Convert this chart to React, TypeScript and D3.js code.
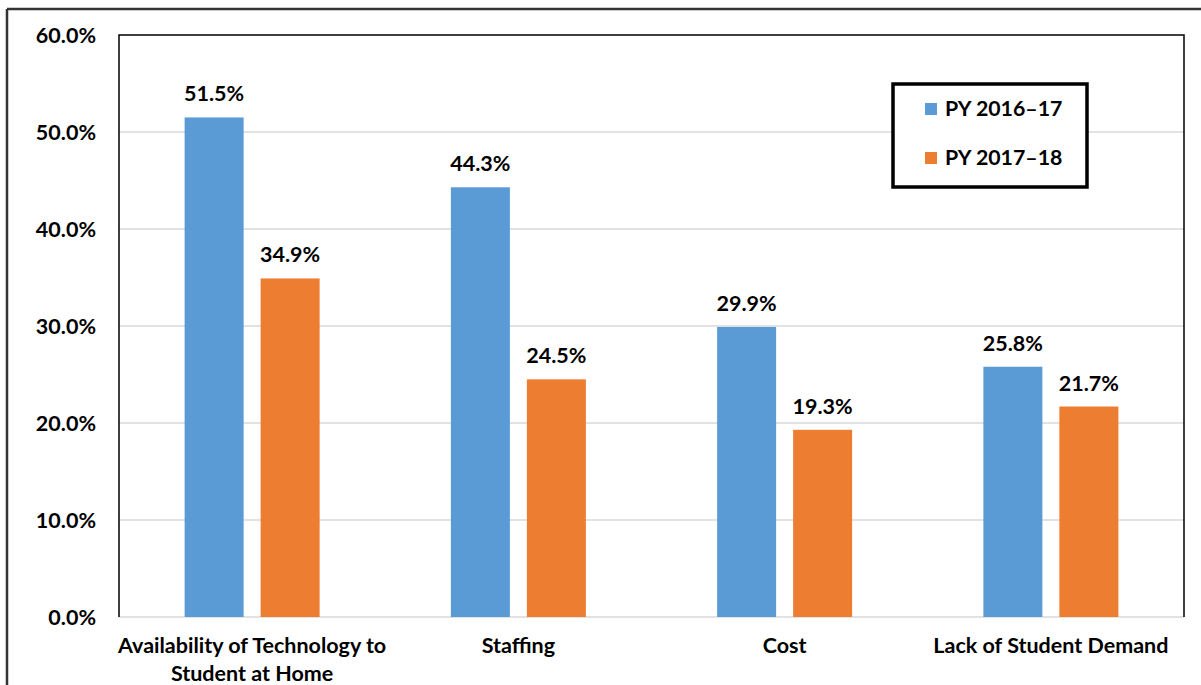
import React from "react";
import * as d3 from "d3";

const categories = [["Availability of Technology to", "Student at Home"], ["Staffing"], ["Cost"], ["Lack of Student Demand"]];
const series1Name = "PY 2016–17";
const series2Name = "PY 2017–18";
const series1 = [51.5, 44.3, 29.9, 25.8];
const series2 = [34.9, 24.5, 19.3, 21.7];
const yTicks = [0, 10, 20, 30, 40, 50, 60];

const W = 1201, H = 685;
const m = { left: 119, top: 35, right: 1184, bottom: 617 };
const FONT = "Lato, 'Open Sans', sans-serif";
const BLUE = "#5B9BD5";
const ORANGE = "#ED7D31";
const FS = 21.5;

export default function App() {
  const x = d3.scaleBand<number>().domain(d3.range(categories.length)).range([m.left, m.right]);
  const y = d3.scaleLinear().domain([0, 60]).range([m.bottom, m.top]);
  const barW = 59, gap = 17;
  return (
    <svg width={W} height={H} style={{ position: "absolute", left: 0, top: 0 }} fontFamily={FONT}>
      <rect x={0} y={0} width={W} height={H} fill="#fff" />
      <line x1={7} y1={9} x2={W} y2={9} stroke="#333" strokeWidth={2.5} />
      <line x1={7} y1={9} x2={7} y2={H} stroke="#333" strokeWidth={2.5} />
      {yTicks.map(t => (
        <g key={t}>
          {t > 0 && t < 60 && <line x1={m.left} x2={m.right} y1={y(t)} y2={y(t)} stroke="#d9d9d9" strokeWidth={1.3} />}
          <text x={96} y={y(t)} dy="0.35em" textAnchor="end" fontWeight="bold" fontSize={FS} fill="#000">{t.toFixed(1)}%</text>
        </g>
      ))}
      <line x1={m.left} x2={m.right} y1={y(0)} y2={y(0)} stroke="#d9d9d9" strokeWidth={1.5} />
      <path d={`M${m.left},${m.bottom}V${m.top}H${m.right}V${m.bottom}`} fill="none" stroke="#000" strokeWidth={1.5} />
      {categories.map((c, i) => {
        const cx = x(i)! + x.bandwidth() / 2;
        const x1 = cx - gap / 2 - barW;
        const x2 = cx + gap / 2;
        return (
          <g key={i}>
            <rect x={x1} y={y(series1[i])} width={barW} height={y(0) - y(series1[i])} fill={BLUE} />
            <rect x={x2} y={y(series2[i])} width={barW} height={y(0) - y(series2[i])} fill={ORANGE} />
            <text x={x1 + barW / 2} y={y(series1[i]) - 16} textAnchor="middle" fontWeight="bold" fontSize={FS}>{series1[i].toFixed(1)}%</text>
            <text x={x2 + barW / 2} y={y(series2[i]) - 16} textAnchor="middle" fontWeight="bold" fontSize={FS}>{series2[i].toFixed(1)}%</text>
            {c.map((line, k) => (
              <text key={k} x={cx} y={653 + k * 28} textAnchor="middle" fontWeight="bold" fontSize={FS}>{line}</text>
            ))}
          </g>
        );
      })}
      <rect x={893} y={84} width={194} height={103} fill="#fff" stroke="#000" strokeWidth={3.5} />
      <rect x={925} y={103} width={12} height={12} fill={BLUE} />
      <text x={945} y={109} dy="0.35em" fontWeight="bold" fontSize={21.3}>{series1Name}</text>
      <rect x={925} y={152} width={12} height={12} fill={ORANGE} />
      <text x={945} y={158} dy="0.35em" fontWeight="bold" fontSize={21.3}>{series2Name}</text>
    </svg>
  );
}
